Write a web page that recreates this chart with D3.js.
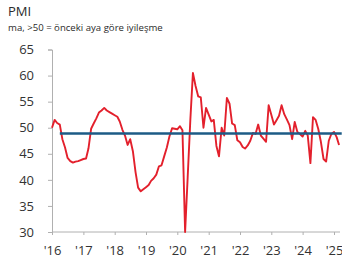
<!DOCTYPE html>
<html><head><meta charset="utf-8">
<script src="https://cdn.jsdelivr.net/npm/d3@7/dist/d3.min.js"></script>
<style>
html,body{margin:0;padding:0;background:#fff;}
svg{display:block;font-family:"Open Sans",sans-serif;}
</style></head>
<body><svg id="c" width="342" height="267"></svg>
<script>
const title = "PMI";
const subtitle = "ma, >50 = önceki aya göre iyileşme";
const startYear = 2016, startMonth = 0;
const pmiValues = [
 50.0,51.5,50.9,50.6,47.8,46.2,44.2,43.6,43.3,43.5,43.6,43.8,
 44.0,44.1,46.0,49.8,50.8,51.8,52.9,53.3,53.8,53.3,53.0,52.7,
 52.4,52.1,51.2,49.6,48.5,46.7,47.8,45.5,41.5,38.5,37.8,38.2,
 38.6,39.0,39.8,40.3,41.0,42.6,42.8,44.5,46.2,48.3,49.9,49.8,
 49.7,50.3,49.5,30.0,40.5,51.5,60.5,58.0,56.0,55.8,50.0,53.8,
 52.5,51.2,51.5,46.5,44.5,50.0,48.5,55.7,54.6,50.8,50.5,47.6,
 47.2,46.3,46.0,46.6,47.5,49.0,48.8,50.6,48.5,47.9,47.3,54.3,
 52.5,50.6,51.4,52.3,54.3,52.6,51.6,50.5,47.8,51.1,49.2,48.8,
 48.3,49.4,48.5,43.2,52.0,51.5,49.8,47.3,44.0,43.5,47.5,48.8,
 49.2,48.2,46.7
];
const referenceLevel = 48.9;
const referenceStart = [2016, 3];
const referenceEnd = [2025, 3];
const yTicks = [30,35,40,45,50,55,60,65];
const xTickYears = [2016,2017,2018,2019,2020,2021,2022,2023,2024,2025];
const xTickLabels = ["'16","'17","'18","'19","'20","'21","'22","'23","'24","'25"];

const data = pmiValues.map((v,i)=>({date:new Date(startYear, startMonth+i, 1), value:v}));

const svg = d3.select("#c");
const x = d3.scaleTime().domain([new Date(2016,0,1), new Date(2025,0,1)]).range([52,334]);
const y = d3.scaleLinear().domain([30,65]).range([232,49.5]);

svg.append("text").attr("x",8).attr("y",16).attr("font-size",13).attr("fill","#2b2b2b").text(title);
svg.append("text").attr("x",8).attr("y",30.5).attr("font-size",9.6).attr("fill","#2b2b2b").text(subtitle);

// y axis
const ya = svg.append("g").attr("transform","translate(52,0)")
  .call(d3.axisLeft(y).tickValues(yTicks).tickSize(4).tickPadding(14).tickFormat(d3.format("d")));
ya.select(".domain").attr("stroke","#b0b0b0");
ya.selectAll(".tick line").attr("stroke","#b0b0b0");
ya.selectAll("text").attr("font-size",13).attr("fill","#333").attr("font-family","Open Sans, sans-serif");

// x axis
const xa = svg.append("g").attr("transform","translate(0,232)")
  .call(d3.axisBottom(x).tickValues(xTickYears.map(yy=>new Date(yy,0,1))).tickSize(3).tickPadding(11)
    .tickFormat((d,i)=>xTickLabels[i]));
xa.select(".domain").attr("stroke","#b0b0b0").attr("d","M52,0H340");
xa.selectAll(".tick line").attr("stroke","#b0b0b0");
xa.selectAll("text").attr("font-size",13).attr("fill","#333").attr("font-family","Open Sans, sans-serif");

const line = d3.line().x(d=>x(d.date)).y(d=>y(d.value));
svg.append("path").datum(data).attr("d",line).attr("fill","none")
  .attr("stroke","#e3202c").attr("stroke-width",1.9).attr("stroke-linejoin","round");

svg.append("line")
  .attr("x1",x(new Date(referenceStart[0],referenceStart[1],1)))
  .attr("x2",x(new Date(referenceEnd[0],referenceEnd[1],1)))
  .attr("y1",y(referenceLevel)).attr("y2",y(referenceLevel))
  .attr("stroke","#1d5b86").attr("stroke-width",2.6);
</script></body></html>
